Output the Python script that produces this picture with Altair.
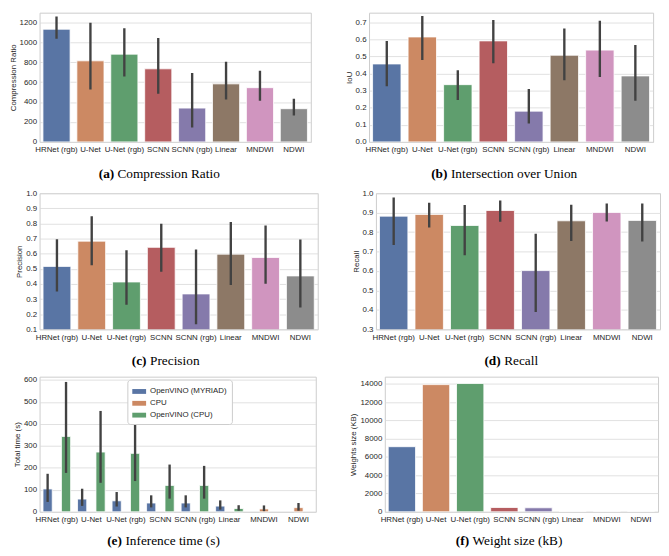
import altair as alt
import pandas as pd

models = ["HRNet (rgb)", "U-Net", "U-Net (rgb)", "SCNN", "SCNN (rgb)", "Linear", "MNDWI", "NDWI"]
colors = ["#5975a4", "#cc8963", "#5f9e6e", "#b55d60", "#857aab", "#8d7866", "#d095bf", "#8c8c8c"]

cr_mean = [1130, 813, 880, 733, 339, 582, 544, 333]
cr_lo = [1034, 525, 656, 483, 144, 426, 413, 266]
cr_hi = [1258, 1194, 1139, 1043, 691, 803, 714, 432]

iou_mean = [0.456, 0.614, 0.335, 0.591, 0.180, 0.507, 0.537, 0.386]
iou_lo = [0.326, 0.479, 0.245, 0.460, 0.108, 0.361, 0.380, 0.241]
iou_hi = [0.591, 0.736, 0.419, 0.713, 0.309, 0.664, 0.709, 0.567]

prec_mean = [0.516, 0.683, 0.413, 0.642, 0.334, 0.597, 0.575, 0.453]
prec_lo = [0.350, 0.523, 0.262, 0.480, 0.134, 0.393, 0.402, 0.244]
prec_hi = [0.696, 0.847, 0.622, 0.798, 0.627, 0.809, 0.786, 0.694]

rec_mean = [0.882, 0.891, 0.834, 0.911, 0.602, 0.858, 0.901, 0.860]
rec_lo = [0.734, 0.824, 0.681, 0.853, 0.389, 0.754, 0.855, 0.752]
rec_hi = [0.978, 0.951, 0.939, 0.962, 0.792, 0.940, 0.947, 0.947]

weights_kb = [7130, 13930, 14050, 470, 440, 0, 0, 0]

devices = ["OpenVINO (MYRIAD)", "CPU", "OpenVINO (CPU)"]
device_colors = ["#5975a4", "#cc8963", "#5f9e6e"]
time_model = ["HRNet (rgb)", "HRNet (rgb)", "U-Net", "U-Net", "U-Net (rgb)", "U-Net (rgb)",
              "SCNN", "SCNN", "SCNN (rgb)", "SCNN (rgb)", "Linear", "Linear", "MNDWI", "NDWI"]
time_device = ["OpenVINO (MYRIAD)", "OpenVINO (CPU)", "OpenVINO (MYRIAD)", "OpenVINO (CPU)",
               "OpenVINO (MYRIAD)", "OpenVINO (CPU)", "OpenVINO (MYRIAD)", "OpenVINO (CPU)",
               "OpenVINO (MYRIAD)", "OpenVINO (CPU)", "OpenVINO (MYRIAD)", "OpenVINO (CPU)",
               "CPU", "CPU"]
time_mean = [104, 343, 58, 272, 50, 266, 40, 120, 40, 120, 26, 15, 13, 19]
time_lo = [45, 177, 27, 132, 24, 140, 20, 60, 20, 60, 10, 5, 3, 5]
time_hi = [173, 591, 105, 459, 90, 466, 75, 215, 75, 209, 52, 30, 29, 40]

ticks_cr = [0, 200, 400, 600, 800, 1000, 1200]
ticks_iou = [0.0, 0.1, 0.2, 0.3, 0.4, 0.5, 0.6, 0.7]
ticks_prec = [0.1, 0.2, 0.3, 0.4, 0.5, 0.6, 0.7, 0.8, 0.9, 1.0]
ticks_rec = [0.3, 0.4, 0.5, 0.6, 0.7, 0.8, 0.9, 1.0]
ticks_time = [0, 100, 200, 300, 400, 500, 600]
ticks_w = [0, 2000, 4000, 6000, 8000, 10000, 12000, 14000]

ERR = "#424242"
SERIF = "Liberation Serif"


def caption_layers(tag, text, bx, tx, cy):
    t1 = alt.Chart(pd.DataFrame({"c": [tag]})).mark_text(
        font=SERIF, fontSize=13.5, fontWeight="bold", align="left", baseline="alphabetic", color="black"
    ).encode(text="c:N", x=alt.value(bx), y=alt.value(cy))
    t2 = alt.Chart(pd.DataFrame({"c": [text]})).mark_text(
        font=SERIF, fontSize=13.5, fontWeight="normal", align="left", baseline="alphabetic", color="black"
    ).encode(text="c:N", x=alt.value(tx), y=alt.value(cy))
    return [t1, t2]


def xenc():
    return alt.X("model:N", sort=models,
                 scale=alt.Scale(domain=models, paddingInner=0.2, paddingOuter=0.1),
                 axis=alt.Axis(title=None, labelAngle=0, labelOverlap=False))


def yaxis(title, tvals, fmt):
    return alt.Axis(title=title, values=tvals, format=fmt, labelOverlap=False, tickCount=len(tvals))


def simple_panel(vals, lo, hi, ytitle, domain, tvals, fmt, w, h, tag, text, bx, tx, cy):
    df = pd.DataFrame({"model": models, "value": vals, "lo": lo, "hi": hi})
    y = alt.Y("value:Q", scale=alt.Scale(domain=domain, nice=False, zero=False),
              axis=yaxis(ytitle, tvals, fmt))
    bars = alt.Chart(df).mark_bar(stroke="white", strokeWidth=0.8, clip=True).encode(
        x=xenc(), y=y,
        color=alt.Color("model:N", scale=alt.Scale(domain=models, range=colors), legend=None))
    layers = [bars]
    if lo is not None:
        err = alt.Chart(df).mark_rule(color=ERR, strokeWidth=2.4, clip=True).encode(
            x=xenc(), y="lo:Q", y2="hi:Q")
        layers.append(err)
    layers += caption_layers(tag, text, bx, tx, cy)
    return alt.layer(*layers).properties(width=w, height=h)


H1, H2, H3 = 131, 138, 137

# captions: x positions relative to the plot's left edge, y relative to its top
pa = simple_panel(cr_mean, cr_lo, cr_hi, "Compression Ratio", [0, 1296], ticks_cr, "d",
                  275, H1, "(a)", "Compression Ratio", 60, 79, H1 + 37)
pb = simple_panel(iou_mean, iou_lo, iou_hi, "IoU", [0, 0.756], ticks_iou, ".1f",
                  288, H1, "(b)", "Intersection over Union", 63, 83, H1 + 37)
pc = simple_panel(prec_mean, prec_lo, prec_hi, "Precision", [0.1, 1.0], ticks_prec, ".1f",
                  282, H2, "(c)", "Precision", 93.5, 112, H2 + 36)
pd_ = simple_panel(rec_mean, rec_lo, rec_hi, "Recall", [0.3, 1.0], ticks_rec, ".1f",
                   288, H2, "(d)", "Recall", 110, 130, H2 + 36)
pf = simple_panel(weights_kb, None, None, "Weights size (KB)", [0, 14800], ticks_w, "d",
                  277, H3, "(f)", "Weight size (kB)", 72, 89, H3 + 34)

# panel (e): grouped bars
tdf = pd.DataFrame({"model": time_model, "device": time_device, "value": time_mean,
                    "lo": time_lo, "hi": time_hi})
xoff = alt.XOffset("device:N", sort=devices, scale=alt.Scale(domain=devices, paddingInner=0, paddingOuter=0))
ey = alt.Y("value:Q", scale=alt.Scale(domain=[0, 615], nice=False),
           axis=yaxis("Total time (s)", ticks_time, "d"))
ebars = alt.Chart(tdf).mark_bar(stroke="white", strokeWidth=0.8).encode(
    x=xenc(), xOffset=xoff, y=ey,
    color=alt.Color("device:N", sort=devices,
                    scale=alt.Scale(domain=devices, range=device_colors),
                    legend=alt.Legend(title=None, orient="none", legendX=89, legendY=3,
                                      fillColor="white", strokeColor="#cccccc", padding=5,
                                      cornerRadius=3, labelFontSize=8, labelColor="#262626",
                                      symbolType="M-1,-0.35H1V0.35H-1Z", symbolSize=196,
                                      symbolStrokeWidth=0, symbolOpacity=1, rowPadding=1,
                                      labelLimit=200)))
eerr = alt.Chart(tdf).mark_rule(color=ERR, strokeWidth=2.4).encode(
    x=xenc(), xOffset=xoff, y="lo:Q", y2="hi:Q")
pe = alt.layer(ebars, eerr, *caption_layers("(e)", "Inference time (s)", 68.5, 87, H3 + 34)).properties(width=280, height=H3)

chart = alt.vconcat(
    alt.hconcat(pa, pb, spacing=33).resolve_scale(color="independent"),
    alt.hconcat(pc, pd_, spacing=33).resolve_scale(color="independent"),
    alt.hconcat(pe, pf, spacing=33).resolve_scale(color="independent"),
    spacing=7,
).resolve_scale(color="independent").properties(
    padding=0
).configure(
    font="Liberation Sans", background="white"
).configure_view(
    stroke="#cccccc", strokeWidth=1
).configure_axis(
    labelFontSize=8, titleFontSize=8, labelColor="#262626", titleColor="#262626",
    titleFontWeight="normal", ticks=False, domain=False, gridColor="#d9d9d9",
    gridWidth=0.8, labelPadding=3, titlePadding=2
).configure_axisX(grid=False, labelPadding=4)

chart.save("out.html", embed_options={"renderer": "svg", "actions": False})
